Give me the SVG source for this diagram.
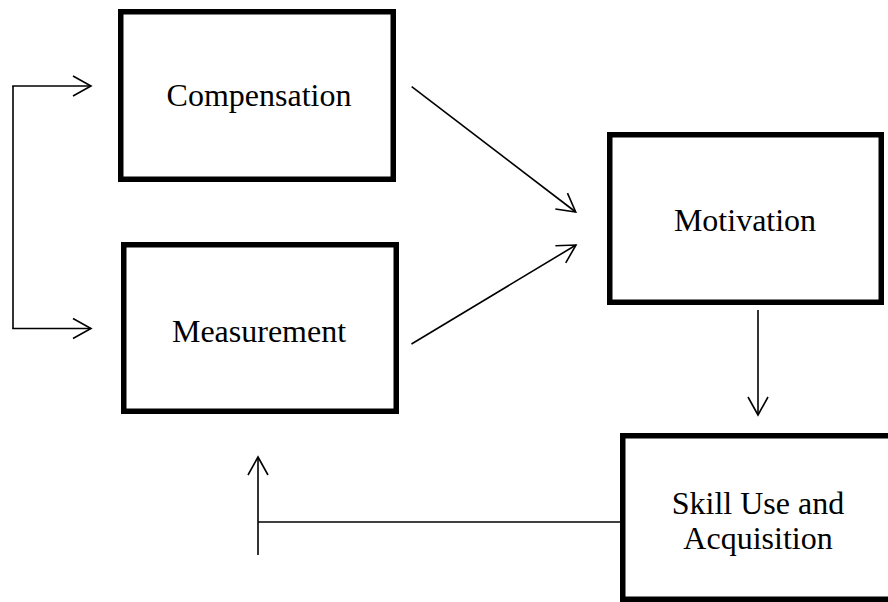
<svg xmlns="http://www.w3.org/2000/svg" width="888" height="602" viewBox="0 0 888 602">
<defs>
<marker id="arr" markerUnits="userSpaceOnUse" markerWidth="24" markerHeight="24" viewBox="-20 -12 24 24" refX="0" refY="0" orient="auto">
<path d="M-18,-10 L0,0 L-18,10" fill="none" stroke="#000" stroke-width="1.6"/>
</marker>
</defs>
<style>
.box{fill:#fff;stroke:#000;stroke-width:5.5}
.lbl{font-family:"Liberation Serif","Times New Roman",serif;font-size:32px;fill:#000;text-anchor:middle}
.con{fill:none;stroke:#000;stroke-width:1.6}
</style>
<rect width="888" height="602" fill="#fff"/>
<g id="compensation">
<rect class="box" x="120.75" y="11.75" width="272.5" height="167.5"/>
<text class="lbl" x="259" y="106">Compensation</text>
</g>
<g id="measurement">
<rect class="box" x="123.75" y="244.75" width="272.5" height="166.5"/>
<text class="lbl" x="259" y="342">Measurement</text>
</g>
<g id="motivation">
<rect class="box" x="609.75" y="134.75" width="271.5" height="167.5"/>
<text class="lbl" x="745" y="231">Motivation</text>
</g>
<g id="skill">
<rect class="box" x="622.75" y="435.75" width="290" height="163.5"/>
<text class="lbl" x="758" y="514">Skill Use and</text>
<text class="lbl" x="758" y="549">Acquisition</text>
</g>
<g id="connectors">
<path class="con" d="M13,86 L13,328.5"/>
<path class="con" d="M12.2,86 L91,86" marker-end="url(#arr)"/>
<path class="con" d="M12.2,328.5 L91,328.5" marker-end="url(#arr)"/>
<path class="con" d="M411.7,86.7 L575.7,212" marker-end="url(#arr)"/>
<path class="con" d="M411.5,344 L576,245" marker-end="url(#arr)"/>
<path class="con" d="M758,310 L758,415" marker-end="url(#arr)"/>
<path class="con" d="M620,522 L258,522"/>
<path class="con" d="M258,555 L258,457" marker-end="url(#arr)"/>
</g>
</svg>
